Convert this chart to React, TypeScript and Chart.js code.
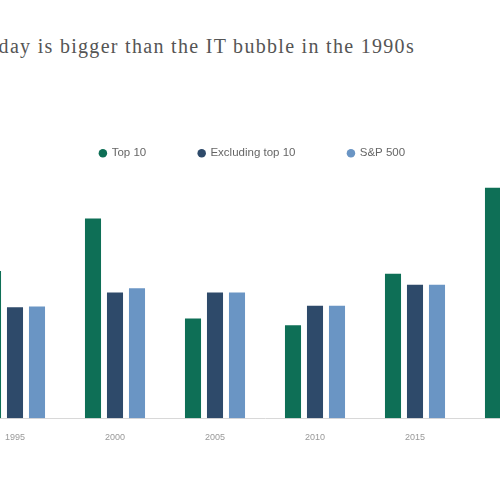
import React, { useEffect, useRef } from "react";
import { Chart, registerables } from "chart.js";

Chart.register(...registerables);

const TITLE = "Concentration today is bigger than the IT bubble in the 1990s";
const years = ["1995", "2000", "2005", "2010", "2015", "2020"];
const top10 = [21.1, 28.6, 14.3, 13.3, 20.7, 33.0];
const excludingTop10 = [15.9, 18.0, 18.0, 16.1, 19.1, 22.0];
const sp500 = [16.0, 18.6, 18.0, 16.1, 19.1, 24.0];
const seriesNames = ["Top 10", "Excluding top 10", "S&P 500"];
const seriesColors = ["#0e6f56", "#2e4a6a", "#6a95c4"];

export default function App() {
  const ref = useRef<HTMLCanvasElement | null>(null);
  useEffect(() => {
    if (!ref.current) return;
    const chart = new Chart(ref.current, {
      type: "bar",
      data: {
        labels: years,
        datasets: [top10, excludingTop10, sp500].map((d, i) => ({
          label: seriesNames[i],
          data: d,
          backgroundColor: seriesColors[i],
          borderWidth: 0,
          barPercentage: 0.73,
          categoryPercentage: 0.66,
        })),
      },
      options: {
        animation: false,
        responsive: false,
        layout: { padding: 0 },
        plugins: {
          title: { display: false },
          tooltip: { enabled: false },
          legend: {
            display: true,
            position: "top",
            labels: {
              usePointStyle: true,
              pointStyle: "circle",
              boxWidth: 6,
              boxHeight: 6,
              padding: 52.5,
              color: "#666",
              font: { size: 11.5, family: "Liberation Sans, Arial, sans-serif" },
            },
          },
        },
        scales: {
          x: {
            grid: { display: false },
            border: { display: true, color: "#d8d8d8", width: 1 },
            ticks: {
              color: "#999",
              padding: 6,
              font: { size: 9, family: "Liberation Sans, Arial, sans-serif" },
            },
          },
          y: {
            min: 0,
            max: 35.7,
            grid: { display: false },
            border: { display: false },
            ticks: { display: false },
            afterFit: (s: any) => {
              s.width = 25;
            },
          },
        },
      },
    });
    return () => chart.destroy();
  }, []);

  return (
    <div
      style={{
        position: "fixed",
        left: 0,
        top: 0,
        width: 500,
        height: 500,
        overflow: "hidden",
        background: "#fff",
      }}
    >
      <div
        style={{
          position: "absolute",
          right: 85,
          top: 35,
          whiteSpace: "nowrap",
          fontFamily: "'Liberation Serif', 'DejaVu Serif', serif",
          fontSize: 20,
          letterSpacing: "1.3px",
          lineHeight: "22px",
          color: "#555",
        }}
      >
        {TITLE}
      </div>
      <canvas
        ref={ref}
        width={625}
        height={354}
        style={{ position: "absolute", left: -60, top: 95, width: 625, height: 354 }}
      />
    </div>
  );
}
